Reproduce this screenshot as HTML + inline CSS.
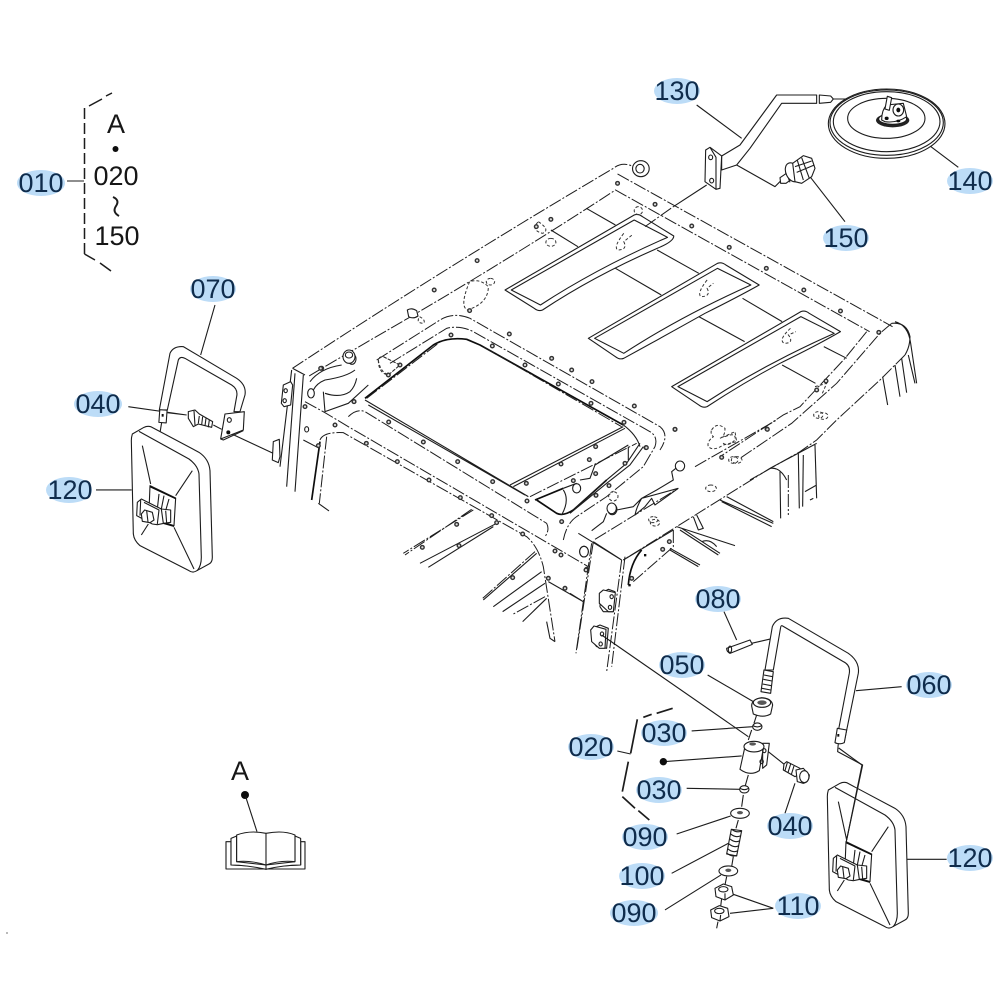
<!DOCTYPE html>
<html><head><meta charset="utf-8"><style>
html,body{margin:0;padding:0;background:#fff}
svg{display:block}
path,line,ellipse,polygon,rect,circle{vector-effect:non-scaling-stroke}
.l{fill:none;stroke:#1c1c1c;stroke-width:1.1;stroke-linejoin:round}
.f{fill:#fff;stroke:#1c1c1c;stroke-width:1.1;stroke-linejoin:round}
.t{fill:none;stroke:#111;stroke-width:1.7;stroke-linejoin:round}
.d{fill:none;stroke:#1c1c1c;stroke-width:1;stroke-dasharray:13 2 2 2}
.s{fill:none;stroke:#333;stroke-width:1;stroke-dasharray:3 2}
.bo{fill:none;stroke:#333;stroke-width:5;stroke-linecap:round}
.bi{fill:none;stroke:#ddd;stroke-width:2.2;stroke-linecap:round}
.k{fill:#111;stroke:none}
text{font-family:"Liberation Sans",sans-serif;font-size:27px;text-anchor:middle;fill:#0f2c4c}
text.b{fill:#161616}
.h{fill:#bcdcf7;stroke:none}
</style></head><body>
<svg width="1000" height="1000" viewBox="0 0 1000 1000" xmlns="http://www.w3.org/2000/svg">
<defs><filter id="bl" x="-2%" y="-2%" width="104%" height="104%"><feGaussianBlur stdDeviation="0.35"/></filter></defs>
<rect width="1000" height="1000" fill="#fff"/>
<g filter="url(#bl)">

<!-- ROOF TOP (zoom-1 coordinates) -->
<g transform="translate(280,150) scale(.4167,.3333)">
<path class="d" d="M30,655 Q400,350 800,55 Q820,35 845,48"/>
<ellipse class="f" cx="866" cy="56" rx="20" ry="24"/><ellipse class="f" cx="864" cy="56" rx="10" ry="13"/>
<path class="d" d="M70,678 Q100,655 300,510"/>
<path class="d" d="M300,510 Q560,320 805,120 L1415,545"/>
<path class="d" d="M810,72 L1470,530"/>
<path class="f" d="M540,420 L850,195 Q860,190 870,200 L945,258 Q945,275 905,295 Q750,380 630,480 Q620,485 610,475 Z"/>
<path class="l" d="M555,420 L850,210 L930,262 Q760,355 625,465 Z"/>
<path class="f" d="M740,565 L1050,340 Q1060,335 1070,345 L1150,405 Q1100,440 1020,490 Q920,560 825,625 Q815,630 805,620 Z"/>
<path class="l" d="M755,565 L1050,355 L1130,405 Q960,500 825,610 Z"/>
<path class="f" d="M940,710 L1250,485 Q1260,480 1270,490 L1345,545 Q1290,585 1200,640 Q1110,700 1025,770 Q1015,775 1005,765 Z"/>
<path class="l" d="M955,710 L1250,500 L1330,550 Q1160,645 1025,755 Z"/>
<path class="l" d="M735,175 L805,225 M650,240 L715,290 M905,300 L1005,370 M805,355 L915,435 M1110,445 L1205,515 M1005,500 L1115,575 M1305,590 L1360,625 M1205,645 L1285,700"/>
<path class="s" d="M620,215 Q650,240 630,250 Q600,240 620,215 M860,170 a10,12 0 1,0 .1,0 M650,265 a12,12 0 1,0 .1,0 M825,250 Q800,290 810,300 Q835,300 825,275 L845,255 M1025,390 Q1000,430 1010,440 Q1035,440 1025,415 L1040,400 M1225,535 Q1195,570 1210,580 Q1235,580 1220,555 L1238,545 M455,395 Q430,470 450,480 Q500,460 500,410 Q480,385 455,395 M505,385 a10,10 0 1,0 .1,0 M335,500 Q350,510 345,520 Q325,520 335,500"/>
<path class="bo" d="M100,655h.1M370,420h.1M473,332h.1M650,208h.1M810,100h.1M900,163h.1M988,228h.1M1078,292h.1M1167,355h.1M1257,420h.1M1345,483h.1M1437,547h.1M615,230h.1M455,482h.1"/>
<path class="bi" d="M100,655h.1M370,420h.1M473,332h.1M650,208h.1M810,100h.1M900,163h.1M988,228h.1M1078,292h.1M1167,355h.1M1257,420h.1M1345,483h.1M1437,547h.1M615,230h.1M455,482h.1"/>
</g>

<!-- WINDOW (zoom-5 coordinates) -->
<g transform="translate(350,310) scale(.3333)">
<path class="t" d="M45,265 L250,105 Q290,80 350,88 L390,105 L820,345"/>
<path class="l" d="M820,345 Q860,375 870,410"/>
<path class="d" d="M50,265 L265,100 M400,110 L815,350"/>
<path class="l" d="M55,285 L525,555 M45,270 L535,560"/>
<path class="l" d="M480,525 L820,350 M490,530 L825,355"/>
<path class="d" d="M540,560 L860,400"/>
<path class="t" d="M560,570 L620,610 Q640,620 670,600 L770,510 M555,570 L640,535"/>
<path class="l" d="M670,600 L770,510 L830,460 L870,400 M660,610 L770,520 L840,465 L880,410 M835,410 L835,450 M640,535 L680,520 M640,540 Q660,570 635,615 M690,510 L720,505 L735,465 L835,405"/>
<ellipse class="f" cx="680" cy="535" rx="12" ry="14"/>
<path class="d" d="M120,160 L290,55 Q330,45 370,65 L900,365 Q925,380 915,410 L880,470 L770,560 L680,620 Q650,640 640,690"/>
<path class="d" d="M80,150 L270,30 Q310,5 360,25 L930,350 Q960,375 930,420"/>
<path class="s" d="M85,150 Q85,190 115,195 L150,165 L100,140 Q85,140 85,150 M790,545 a14,14 0 1,0 .1,0 M910,620 a14,9 0 1,0 .1,0"/>
<path class="d" d="M-5,320 Q20,295 45,305 L590,640 Q600,660 585,680"/>
<path class="f" d="M172,0 Q185,-8 200,2 L204,18 Q190,28 176,20 Z" />
<ellipse class="f" cx="787" cy="598" rx="14" ry="16"/><ellipse class="f" cx="6" cy="147" rx="12" ry="16"/>
<path class="bo" d="M150,165h.1M115,195h.1M303,75h.1M427,108h.1M525,165h.1M625,222h.1M723,280h.1M822,337h.1M478,72h.1M605,145h.1M665,180h.1M726,215h.1M853,288h.1M975,358h.1M888,413h.1M737,410h.1M633,462h.1M529,520h.1M737,491h.1M670,512h.1M825,460h.1M777,527h.1M738,556h.1M531,573h.1M428,515h.1M323,455h.1M220,396h.1M116,336h.1M12,275h.1M635,635h.1M718,449h.1"/>
<path class="bi" d="M150,165h.1M115,195h.1M303,75h.1M427,108h.1M525,165h.1M625,222h.1M723,280h.1M822,337h.1M478,72h.1M605,145h.1M665,180h.1M726,215h.1M853,288h.1M975,358h.1M888,413h.1M737,410h.1M633,462h.1M529,520h.1M737,491h.1M670,512h.1M825,460h.1M777,527h.1M738,556h.1M531,573h.1M428,515h.1M323,455h.1M220,396h.1M116,336h.1M12,275h.1M635,635h.1M718,449h.1"/>
</g>

<!-- LOWER-LEFT CAB (zoom-3 coordinates) -->
<g transform="translate(280,340) scale(.3333)">
<path class="l" d="M38,85 L75,105 M35,90 L0,380 M45,100 L20,440 M70,105 L45,455"/>
<path class="d" d="M75,185 L135,218 L205,260 L925,680"/>
<path class="d" d="M120,300 Q130,275 190,278 L740,590 Q775,620 790,680 L815,840 L825,905"/>
<path class="t" d="M120,305 L95,480"/>
<path class="d" d="M140,290 L118,490"/>
<path class="l" d="M115,490 L147,513 M70,300 L118,325 M800,845 L810,895 L825,905"/>
<path class="l" d="M90,125 Q120,85 185,75 M225,90 Q200,110 135,120 Q110,130 100,150 M130,155 L135,215 L205,190 L265,135 M135,160 Q180,175 210,155 Q225,140 230,115"/>
<ellipse class="f" cx="93" cy="160" rx="10" ry="14"/>
<ellipse class="f" cx="80" cy="268" rx="6" ry="8"/>
<ellipse class="f" cx="912" cy="635" rx="13" ry="16"/>
<path class="d" d="M580,510 L370,640 M575,508 L375,645"/>
<path class="l" d="M650,550 L420,670 M640,560 L445,682"/>
<path class="d" d="M765,635 L605,778"/>
<path class="l" d="M770,640 L610,780 M785,695 L640,800 M795,730 L668,815"/>
<path class="d" d="M795,770 L695,825"/>
<path class="l" d="M800,775 L728,845 M805,725 L910,785"/>
<path class="d" d="M935,610 L888,940"/>
<ellipse class="f" cx="207" cy="50" rx="18" ry="20"/><ellipse class="f" cx="207" cy="45" rx="11" ry="9"/>
<path class="f" d="M10,135 L32,125 L38,135 L32,195 L12,200 L4,190 Z"/>
<ellipse class="l" cx="17" cy="152" rx="5" ry="6"/><ellipse class="l" cx="14" cy="182" rx="5" ry="6"/>
<path class="s" d="M295,60 Q300,95 325,105 L360,75 L310,50 Q298,50 295,60"/>
<path class="f" d="M962,760 L985,748 L1005,755 L1000,815 L970,815 L960,800 Z"/>
<path class="f" d="M938,865 L960,855 L985,865 L980,925 L950,920 L935,900 Z"/>
<path class="bo" d="M122,85h.1M222,185h.1M165,255h.1M115,317h.1M75,200h.1M259,310h.1M352,365h.1M447,420h.1M541,473h.1M635,527h.1M728,582h.1M825,633h.1M843,645h.1M920,688h.1M698,713h.1M805,715h.1M855,745h.1M530,553h.1M427,622h.1M537,617h.1M650,548h.1"/>
<path class="bi" d="M122,85h.1M222,185h.1M165,255h.1M115,317h.1M75,200h.1M259,310h.1M352,365h.1M447,420h.1M541,473h.1M635,527h.1M728,582h.1M825,633h.1M843,645h.1M920,688h.1M698,713h.1M805,715h.1M855,745h.1M530,553h.1M427,622h.1M537,617h.1M650,548h.1"/>
</g>

<!-- FRONT-RIGHT END (zoom-6 coordinates) -->
<g transform="translate(720,300) scale(.3333)">
<path class="d" d="M440,95 L375,175 L240,320 L190,345 L0,470"/>
<path class="d" d="M515,70 L480,100 L350,250 L215,370 L60,475"/>
<path class="d" d="M555,165 L480,240 L350,360 L290,420 L240,455 L90,540"/>
<path class="l" d="M515,70 Q560,65 570,110 Q570,140 555,165 M525,65 Q565,75 572,130 L590,250 M565,165 L585,250 M545,175 L560,278 M525,195 L540,290 M488,230 L503,315"/>
<path class="bo" d="M318,243h.1M290,270h.1M141,387h.1"/><path class="bi" d="M318,243h.1M290,270h.1M141,387h.1"/>
<path class="s" d="M285,260 L320,250 L305,285 M295,335 a14,10 0 1,0 .1,0 M40,470 a14,10 0 1,0 .1,0 M15,410 Q50,395 45,420 Q20,445 5,425"/>
</g>

<!-- FRONT CAB (zoom-4 coordinates) -->
<g transform="translate(570,400) scale(.3333)">
<path class="d" d="M600,205 L160,480"/>
<path class="d" d="M375,200 L620,60"/>
<path class="d" d="M75,418 L325,265"/>
<path class="l" d="M330,195 L305,215 L310,240 L260,270 L215,295 Q200,320 195,345 L225,320 L245,295 L255,315 L325,265 M140,330 L190,320 L215,295 L325,265 M110,340 L100,365 L65,392"/>
<ellipse class="f" cx="330" cy="198" rx="14" ry="15"/><ellipse class="f" cx="125" cy="325" rx="14" ry="16"/>
<path class="l" d="M25,400 L155,480 M70,425 L155,480"/>
<path class="d" d="M155,480 L110,815 M165,470 L125,800"/>
<path class="d" d="M70,425 L20,750 M0,580 L40,605"/>
<path class="t" d="M215,450 Q180,490 175,555"/>
<path class="d" d="M310,390 L310,440 L190,545"/>
<path class="l" d="M160,480 L310,390 M300,445 L390,495 M300,450 L385,500 M320,380 L495,437 M335,385 L450,460 M330,390 L445,465 M370,350 L385,390 L400,385 L380,345 M395,425 Q420,415 440,440"/>
<path class="l" d="M600,205 Q630,200 650,240 M450,300 L610,370 M455,305 L605,380 M470,290 L610,365 M630,215 L632,355 M685,160 L688,325 M700,165 L698,320 M705,275 L740,255 M720,300 L730,295 M735,135 L740,295 M600,205 L740,130"/>
<path class="d" d="M655,225 L655,345"/>
<path class="s" d="M425,90 Q440,65 465,85 Q465,110 450,115 L495,95 L500,125 L460,135 Q430,155 415,140 Q410,125 430,110 Q420,100 425,90 M500,170 a16,10 0 1,0 .1,0 M423,255 a16,10 0 1,0 .1,0 M255,358 a14,10 0 1,0 .1,0 M760,38 a14,10 0 1,0 .1,0"/>
<ellipse class="f" cx="42" cy="455" rx="13" ry="16"/>
<path class="f" d="M88,580 L100,570 L136,578 L130,635 L115,635 L88,610 Z"/>
<path class="f" d="M62,690 L72,678 L108,688 L105,745 L88,745 L65,725 Z"/>
<ellipse class="l" cx="125" cy="590" rx="5" ry="6"/><ellipse class="l" cx="120" cy="622" rx="5" ry="6"/>
<ellipse class="l" cx="96" cy="702" rx="5" ry="6"/><ellipse class="l" cx="92" cy="732" rx="5" ry="6"/>
<path class="k" d="M222,462h7v7h-7z M175,552h7v7h-7z"/>
<path class="bo" d="M592,88h.1M455,172h.1M315,88h.1M229,143h.1M298,425h.1M278,448h.1M185,535h.1M48,510h.1"/>
<path class="bi" d="M592,88h.1M455,172h.1M315,88h.1M229,143h.1M298,425h.1M278,448h.1M185,535h.1M48,510h.1"/>
</g>

<!-- TOP MIRROR ROD (zoom-4b coordinates) -->
<g transform="translate(640,70) scale(.3333)">
<path class="l" d="M170,105 L305,205 M510,320 L615,455 M870,228 L955,292"/>
<path class="l" d="M100,410 L200,345"/>
<path class="d" d="M15,470 L100,410"/>
<path class="f" d="M245,258 L300,225 L410,75 L530,75 L530,100 L425,100 L330,235 L290,285 L245,300 Z"/>
<path class="f" d="M197,240 L210,232 L245,258 L240,355 L228,358 L195,335 Z"/>
<path class="l" d="M210,232 L228,262 L228,358"/>
<ellipse class="f" cx="212" cy="262" rx="6" ry="7"/><ellipse class="f" cx="215" cy="332" rx="6" ry="7"/>
<path class="l" d="M290,285 L405,350 L430,325"/>
</g>

<!-- MIRROR & BOLT 150 (zoom-1b coordinates) -->
<g transform="translate(770,85) scale(.3333)">
<path class="f" d="M148,30 L182,33 L190,42 L182,52 L148,55 Z"/>
<path class="l" d="M190,42 L240,42"/>
<ellipse class="f" cx="350" cy="116" rx="175" ry="104"/>
<ellipse class="l" cx="350" cy="113" rx="170" ry="98"/>
<ellipse class="l" cx="350" cy="110" rx="160" ry="90"/>
<ellipse class="l" cx="349" cy="100" rx="116" ry="60"/>
<ellipse fill="#222" stroke="none" cx="368" cy="106" rx="50" ry="21"/>
<ellipse class="f" cx="368" cy="102" rx="42" ry="16"/>
<path class="f" d="M335,105 Q335,75 350,60 L400,55 L410,95 Q380,115 345,110 Z"/>
<path class="f" d="M345,72 L352,34 L365,38 L358,76 Z"/>
<ellipse class="f" cx="385" cy="75" rx="16" ry="18"/><ellipse class="k" cx="385" cy="75" rx="6" ry="7"/>
<ellipse class="k" cx="350" cy="100" rx="6" ry="5"/><ellipse class="k" cx="385" cy="108" rx="6" ry="4"/>
<!-- 150 -->
<path class="f" d="M30,278 L45,268 L60,255 L75,275 L48,295 L32,295 Z"/>
<path class="l" d="M50,265 L60,292 M60,258 L68,283"/>
<ellipse class="f" cx="68" cy="262" rx="20" ry="30" transform="rotate(-25 68 262)"/>
<path class="f" d="M68,235 L100,212 L125,220 L135,250 L125,275 L95,295 L75,290 Z"/>
<path class="l" d="M82,226 L100,285 M95,218 L118,280 M75,245 L125,228 M80,262 L133,240"/>
</g>

<!-- LEFT ROD (zoom-3b coordinates) -->
<g transform="translate(10,270) scale(.3333)">
<path class="l" d="M615,105 L572,255 M355,410 L530,435 M472,428 L530,435 M610,465 L635,478 M655,487 L790,550 M258,660 L365,660"/>
<path class="f" d="M448,420 L480,250 Q490,228 520,230 L680,325 Q710,345 705,375 L690,425 L672,425 L680,380 Q685,358 665,345 L525,265 Q510,258 505,270 L472,420 Z"/>
<rect class="f" x="448" y="420" width="22" height="38" transform="rotate(4 459 439)"/>
<path class="k" d="M455,432h6v8h-6z"/>
<path class="f" d="M645,432 L703,425 L700,480 L632,507 Z"/>
<ellipse class="f" cx="658" cy="450" rx="6" ry="7"/><ellipse class="k" cx="655" cy="487" rx="6" ry="6"/>
<path class="l" d="M632,507 L640,510 L700,482"/>
<path class="f" d="M535,425 L555,420 L568,432 L608,455 L605,472 L565,462 L550,470 L535,445 Z"/>
<path class="l" d="M568,438 L565,460 M578,440 L575,465 M588,445 L585,468 M598,450 L595,472 M552,422 L555,465"/>
<path class="f" d="M790,515 L808,508 L810,560 L805,578 L787,570 Z"/>
<path class="l" d="M455,458 L420,670"/>
</g>

<!-- MIRRORS (zoom-2b coordinates) -->
<g id="mir" transform="translate(820,780) scale(.3333)">
<path class="f" d="M25,30 Q22,40 22,50 L28,330 Q30,350 48,365 L195,440 Q205,447 215,442 L255,420 Q265,415 265,400 L258,140 Q255,105 225,85 L80,8 Q70,5 60,10 Z"/>
<path class="l" d="M45,22 L195,105 Q222,125 225,150 L232,400 Q232,425 220,440"/>
<path class="l" d="M55,65 L80,180 M205,140 L155,215 M150,310 L210,435 M73,300 L52,333"/>
<path class="f" d="M78,185 L155,222 L150,305 L120,295 L75,260 Z"/>
<path class="l" d="M105,210 L100,255 M120,215 L112,255 M135,225 L125,260"/>
<path class="f" d="M40,235 L52,225 L112,255 L140,258 L140,295 L120,298 L100,302 L85,300 L38,275 Z"/>
<path class="l" d="M50,228 L48,275 M60,235 L105,258 L100,300 M112,255 L118,298 M125,260 L128,297"/>
<path class="f" d="M52,270 L62,258 L85,265 L90,288 L78,296 L55,292 Z"/>
<path class="l" d="M68,260 L72,294"/>
<path class="k" d="M78,185 L155,222 L155,226 L78,190 Z M120,296 L150,305 L150,309 L118,300 Z"/>
</g>
<use href="#mir" transform="translate(-696,-356)"/>
<path class="l" d="M838.700,748 L862,765 L846,843"/>

<!-- RIGHT ASSEMBLY (zoom-2 coordinates) -->
<g transform="translate(560,580) scale(.3333)">
<path class="l" d="M492,95 L530,180 M640,175 L575,190 M125,165 L565,470 M443,285 L580,365 M395,453 L578,440 M310,545 L545,528 M625,515 L675,555 M705,610 L675,700 M380,625 L540,628 M350,762 L512,708 M335,880 L505,790 M315,990 L483,885 M640,985 L520,943 M640,985 L510,1000 M888,332 L1025,320 M1040,838 L1160,838 M172,513 L212,522"/>
<path class="l" d="M590,405 L582,430 M575,450 L565,480 M565,585 L555,620 M550,645 L545,680 M535,720 L528,745 M520,830 L515,860 M500,890 L495,915 M485,955 L482,980 M474,1025 L470,1045"/>
<path class="k" d="M310,534a11,11 0 1,0 .1,0z"/>
<path class="f" d="M500,205 L570,180 L577,193 L510,220 Q500,215 500,205 Z"/>
<ellipse class="l" cx="510" cy="208" rx="5" ry="10"/>
<path class="k" d="M635,170h6v6h-6z"/>
<path class="f" d="M615,270 L637,140 Q650,110 685,115 L865,220 Q900,245 895,280 L853,485 L828,490 L868,280 Q872,255 850,245 L668,138 Q663,135 662,142 L640,270 Z"/>
<path class="f" d="M612,270 L640,275 L632,340 L603,335 Z"/>
<path class="l" d="M612,285 L638,290 M610,298 L636,303 M608,312 L634,317 M606,325 L632,330"/>
<path class="f" d="M832,445 L860,450 L853,488 Q840,495 825,488 Z"/>
<path class="k" d="M832,462h6v8h-6z"/>
<path class="l" d="M835,490 L833,515 L908,555 L860,780"/>
<path class="f" d="M575,378 Q575,358 605,353 Q635,355 638,375 L632,402 Q610,415 580,402 Z"/>
<ellipse class="f" cx="606" cy="368" rx="26" ry="14"/>
<ellipse class="k" cx="606" cy="368" rx="14" ry="7" style="opacity:.7"/>
<ellipse class="f" cx="592" cy="440" rx="14" ry="11"/><path class="l" d="M579,437 Q592,445 605,437"/>
<ellipse class="f" cx="553" cy="628" rx="14" ry="11"/><path class="l" d="M540,625 Q553,633 566,625"/>
<path class="f" d="M608,490 L628,490 L620,555 L608,565 Z"/>
<path class="f" d="M555,500 L610,505 L598,572 Q570,590 540,568 Z"/>
<ellipse class="f" cx="582" cy="500" rx="30" ry="16"/>
<ellipse class="k" cx="578" cy="492" rx="10" ry="5" style="opacity:.7"/>
<ellipse class="l" cx="613" cy="512" rx="5" ry="6"/><ellipse class="l" cx="605" cy="545" rx="5" ry="6"/>
<path class="f" d="M672,552 L680,545 L720,565 L715,585 L705,590 L670,570 Z"/>
<path class="l" d="M682,548 L675,572 M692,552 L684,578 M702,558 L694,584"/>
<path class="f" d="M708,570 L730,565 L748,585 Q748,605 730,610 L712,605 Z"/>
<ellipse class="f" cx="733" cy="590" rx="14" ry="18"/>
<ellipse class="f" cx="540" cy="700" rx="28" ry="15"/><ellipse class="k" cx="540" cy="698" rx="9" ry="5" style="opacity:.7"/>
<ellipse class="f" cx="505" cy="873" rx="28" ry="15"/><ellipse class="k" cx="505" cy="871" rx="9" ry="5" style="opacity:.7"/>
<path class="f" d="M514,748 L545,752 L530,828 L500,822 Z"/>
<path class="l" d="M515,748 Q530,760 546,753 M512,762 Q527,775 543,767 M510,777 Q525,790 540,782 M507,792 Q522,805 537,797 M504,807 Q519,820 534,812 M501,820 Q516,832 531,826"/>
<path class="f" d="M465,925 L490,912 L515,920 L520,945 L495,960 L468,950 Z"/>
<ellipse class="f" cx="490" cy="928" rx="14" ry="8"/><path class="l" d="M495,940 L495,960"/>
<path class="f" d="M452,990 L478,977 L503,985 L507,1010 L480,1023 L455,1013 Z"/>
<ellipse class="f" cx="478" cy="993" rx="14" ry="8"/><path class="l" d="M482,1005 L480,1023"/>
<path fill="none" stroke="#1c1c1c" stroke-width="1.7" d="M338,385 L290,400 M275,403 L250,412 M232,418 L212,520 M205,545 L187,635 M187,650 L225,685 M235,692 L268,720"/>
</g>

<!-- BRACKET A-020~150 -->
<path fill="none" stroke="#1c1c1c" stroke-width="1.5" d="M112,93 L106,96 M102,99 L89,106"/>
<path fill="none" stroke="#1c1c1c" stroke-width="1.5" stroke-dasharray="11 4" d="M84.500,108 L84.500,254"/>
<path fill="none" stroke="#1c1c1c" stroke-width="1.5" d="M84.500,254 L95,260 M100,263 L111,271"/>
<line class="l" x1="67" y1="181" x2="84" y2="181"/>
<circle class="k" cx="115.500" cy="149" r="3"/>
<text class="b" x="116" y="133">A</text>
<text class="b" x="116" y="185">020</text>
<path class="l" style="stroke-width:2" d="M113,197 Q120,200 116,206 Q112,212 119,216"/>
<text class="b" x="117" y="245">150</text>

<!-- BOOK -->
<circle class="k" cx="245" cy="795" r="4"/>
<text class="b" x="240" y="780">A</text>
<g transform="translate(200,750) scale(.3333)">
<path class="l" d="M137,140 L171,245"/>
<path class="f" d="M78,275 L93,275 L93,345 L198,350 L302,345 L302,275 L315,275 L315,357 L78,357 Z"/>
<path class="f" d="M93,265 L110,258 L110,335 L198,345 L285,335 L285,258 L302,265 L302,345 Q250,345 198,358 Q140,345 93,345 Z"/>
<path class="f" d="M110,255 Q150,240 198,250 Q250,240 285,255 L285,335 Q240,330 198,345 Q150,330 110,335 Z"/>
<line class="l" x1="198" y1="250" x2="198" y2="357"/>
</g>
<circle class="k" cx="7" cy="933" r=".6"/>
</g>

<!-- LABELS -->
<g>
<ellipse class="h" cx="41" cy="183" rx="24" ry="13"/><text x="41" y="192">010</text>
<ellipse class="h" cx="677" cy="91" rx="23" ry="13"/><text x="677" y="100">130</text>
<ellipse class="h" cx="970" cy="181" rx="23" ry="13"/><text x="970" y="190">140</text>
<ellipse class="h" cx="846" cy="238" rx="23" ry="13"/><text x="846" y="247">150</text>
<ellipse class="h" cx="213" cy="289" rx="23" ry="13"/><text x="213" y="298">070</text>
<ellipse class="h" cx="98" cy="404" rx="24" ry="13"/><text x="98" y="413">040</text>
<ellipse class="h" cx="69" cy="490" rx="23" ry="13"/><text x="70" y="499">120</text>
<ellipse class="h" cx="718" cy="599" rx="23" ry="13"/><text x="718" y="608">080</text>
<ellipse class="h" cx="682" cy="665" rx="23" ry="13"/><text x="682" y="674">050</text>
<ellipse class="h" cx="929" cy="685" rx="23" ry="13"/><text x="929" y="694">060</text>
<ellipse class="h" cx="664" cy="733" rx="23" ry="13"/><text x="664" y="742">030</text>
<ellipse class="h" cx="591" cy="747" rx="23" ry="13"/><text x="591" y="756">020</text>
<ellipse class="h" cx="659" cy="790" rx="23" ry="13"/><text x="659" y="799">030</text>
<ellipse class="h" cx="790" cy="826" rx="23" ry="13"/><text x="790" y="835">040</text>
<ellipse class="h" cx="645" cy="837" rx="23" ry="13"/><text x="645" y="846">090</text>
<ellipse class="h" cx="642" cy="876" rx="23" ry="13"/><text x="642" y="885">100</text>
<ellipse class="h" cx="634" cy="913" rx="24" ry="13"/><text x="634" y="922">090</text>
<ellipse class="h" cx="798" cy="906" rx="23" ry="13"/><text x="798" y="915">110</text>
<ellipse class="h" cx="970" cy="858" rx="23" ry="13"/><text x="970" y="867">120</text>
</g>
</svg>
</body></html>
